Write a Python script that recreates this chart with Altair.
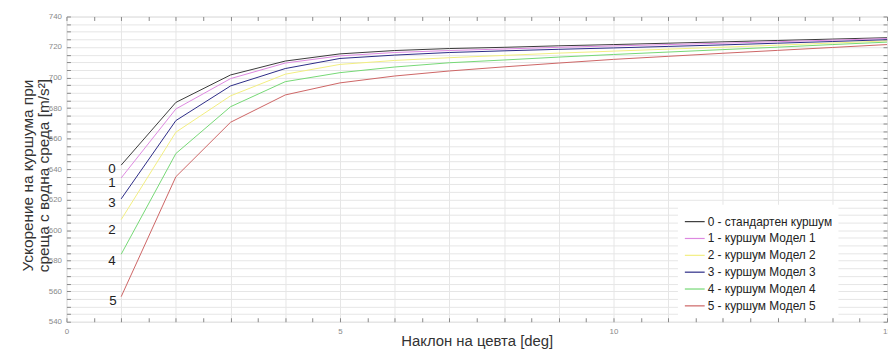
import altair as alt
import pandas as pd

# ---- data ----
angles = list(range(1, 16))
s0 = [642.6, 683.7, 701.7, 710.8, 715.5, 717.7, 719.0, 719.8, 720.8, 721.6, 722.5, 723.4, 724.3, 725.2, 726.1]
s1 = [634.2, 679.4, 699.3, 709.5, 714.2, 716.4, 717.7, 718.7, 719.8, 720.7, 721.6, 722.5, 723.5, 724.5, 725.5]
s2 = [606.9, 664.2, 688.0, 702.2, 708.6, 711.2, 713.0, 714.5, 716.0, 717.3, 718.6, 719.9, 721.2, 722.6, 724.0]
s3 = [620.5, 671.8, 694.5, 705.9, 712.5, 714.7, 716.4, 717.5, 718.5, 719.4, 720.4, 721.4, 722.5, 723.6, 724.8]
s4 = [584.2, 650.2, 680.9, 697.3, 703.2, 706.9, 709.7, 711.5, 713.4, 715.1, 716.7, 718.3, 719.9, 721.6, 723.2]
s5 = [556.4, 635.0, 670.7, 688.6, 696.5, 701.0, 704.3, 707.0, 709.5, 711.9, 713.9, 715.9, 717.8, 719.7, 721.6]

series_names = [
    "0 - стандартен куршум",
    "1 - куршум Модел 1",
    "2 - куршум Модел 2",
    "3 - куршум Модел 3",
    "4 - куршум Модел 4",
    "5 - куршум Модел 5",
]
series_colors = ["#3a3a3a", "#dd88e0", "#f2ee80", "#2a2a86", "#74d874", "#cc6464"]

# annotation numbers near the line starts
ann_text = ["0", "1", "3", "2", "4", "5"]
ann_x = [0.83, 0.83, 0.83, 0.83, 0.83, 0.85]
ann_y = [640.0, 630.9, 617.9, 600.4, 579.6, 553.6]

x_ticks = [i * 0.5 for i in range(0, 31)]
y_ticks = list(range(540, 745, 5))

rows = []
for name, vals in zip(series_names, [s0, s1, s2, s3, s4, s5]):
    for a, v in zip(angles, vals):
        rows.append({"x": a, "v": v, "s": name})
df = pd.DataFrame(rows)
ann = pd.DataFrame({"x": ann_x, "y": ann_y, "t": ann_text})

FONT = "Liberation Sans"
xs = alt.Scale(domain=[0, 15], nice=False, zero=False)
ys = alt.Scale(domain=[540, 740], nice=False, zero=False)

lines = alt.Chart(df).mark_line(strokeWidth=1, clip=True).encode(
    x=alt.X("x:Q", scale=xs, axis=alt.Axis(
        orient="bottom", values=x_ticks, grid=True, ticks=False, tickSize=0, domain=False,
        format="d",
        labelExpr="datum.value % 5 == 0 ? datum.label : ''",
        labelFontSize=8, labelColor="#8a8a8a", labelFont=FONT, labelPadding=6,
        labelFlush=False,
        title="Наклон на цевта [deg]", titleFontSize=15, titleFont=FONT,
        titleFontWeight="normal", titleColor="#333333", titleY=24,
        titleBaseline="alphabetic",
        gridColor="#e6e6e6", gridWidth=1)),
    y=alt.Y("v:Q", scale=ys, axis=alt.Axis(
        orient="left", values=y_ticks, grid=True, ticks=False, tickSize=0, domain=False,
        format="d",
        labelExpr="datum.value % 20 == 0 ? datum.label : ''",
        labelFontSize=8, labelColor="#8a8a8a", labelFont=FONT, labelPadding=5,
        labelFlush=False,
        title=["Ускорение на куршума при", "среща с водна среда [m/s²]"],
        titleFontSize=15.5, titleFont=FONT, titleFontWeight="normal",
        titleColor="#333333", titleX=-34, titleY=160, titleAngle=270, titleLineHeight=16,
        titleBaseline="alphabetic",
        gridColor="#e6e6e6", gridWidth=1)),
    color=alt.Color("s:N", scale=alt.Scale(domain=series_names, range=series_colors),
                    legend=alt.Legend(
                        title=None, orient="none", legendX=617, legendY=190,
                        symbolType="stroke", symbolSize=400, symbolStrokeWidth=1.2,
                        labelFontSize=12, labelFont=FONT, labelColor="#222222",
                        labelOffset=2, rowPadding=-2, fillColor="white", padding=6)),
)

tick_axis_common = dict(grid=False, labels=False, domain=False, ticks=True,
                        tickSize=4, tickColor="#888888", offset=-4, title=None)

ticks_bl = alt.Chart(df).mark_line(strokeOpacity=0).encode(
    x=alt.X("x:Q", scale=xs, axis=alt.Axis(orient="bottom", values=x_ticks, **tick_axis_common)),
    y=alt.Y("v:Q", scale=ys, axis=alt.Axis(orient="left", values=y_ticks, **tick_axis_common)),
)
ticks_tr = alt.Chart(df).mark_line(strokeOpacity=0).encode(
    x=alt.X("x:Q", scale=xs, axis=alt.Axis(orient="top", values=x_ticks, **tick_axis_common)),
    y=alt.Y("v:Q", scale=ys, axis=alt.Axis(orient="right", values=y_ticks, **tick_axis_common)),
)

labels = alt.Chart(ann).mark_text(fontSize=13.5, font=FONT, color="#222222",
                                  align="center", baseline="middle").encode(
    x=alt.X("x:Q", scale=xs, axis=None),
    y=alt.Y("y:Q", scale=ys, axis=None),
    text="t:N",
)

chart = alt.layer(lines, ticks_bl, ticks_tr, labels).resolve_axis(
    x="independent", y="independent"
).properties(
    width=828, height=308,
    autosize=alt.AutoSizeParams(type="none"),
    padding={"left": 59, "top": 7, "right": 1, "bottom": 31},
).configure_view(stroke="#9a9a9a", strokeWidth=1).configure(background="white")

chart.save("out.html", embed_options={"renderer": "svg", "actions": False})
